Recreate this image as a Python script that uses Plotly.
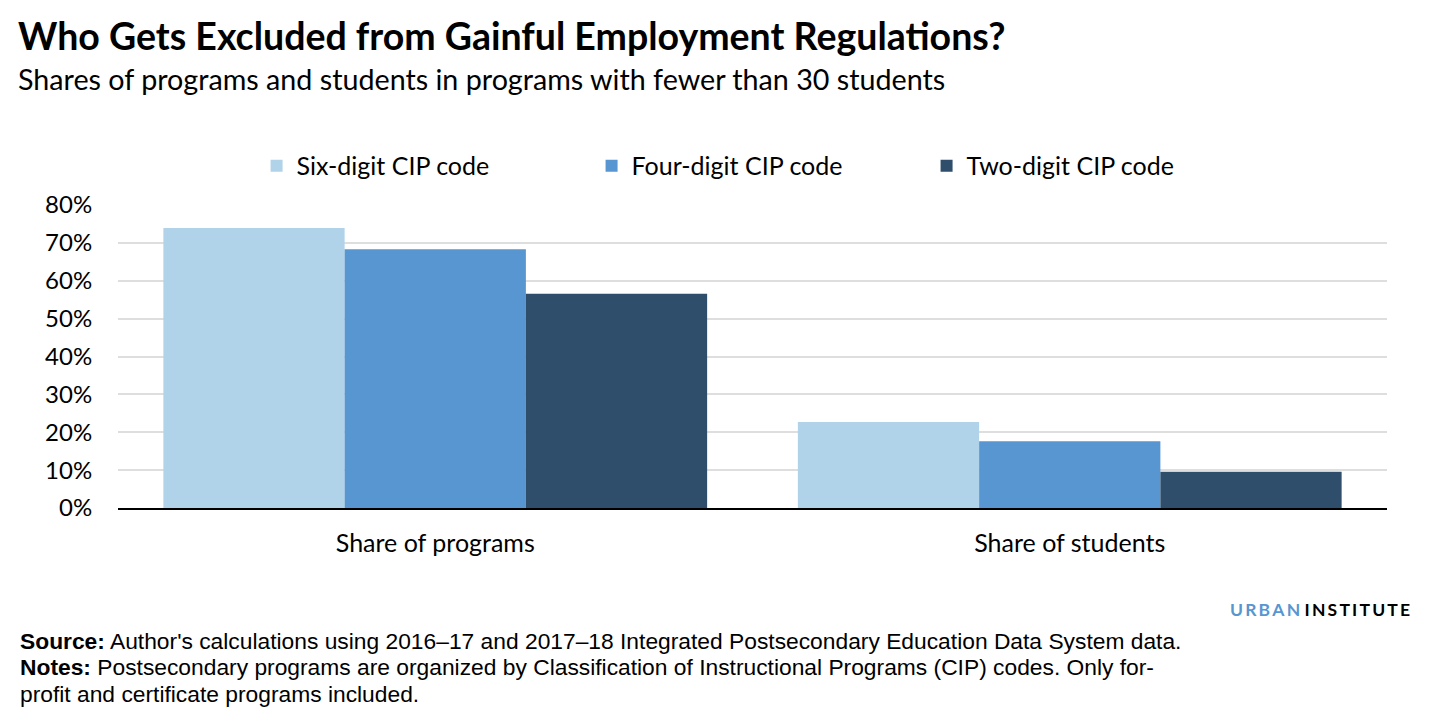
import plotly.graph_objects as go

categories = ["Share of programs", "Share of students"]
series_names = ["Six-digit CIP code", "Four-digit CIP code", "Two-digit CIP code"]
six_digit = [73.9, 22.7]
four_digit = [68.3, 17.6]
two_digit = [56.6, 9.6]
series_colors = ["#b1d3e9", "#5796d1", "#2e4e6b"]
y_ticks = [0, 10, 20, 30, 40, 50, 60, 70, 80]
y_tick_labels = [f"{v}%" for v in y_ticks]

fig = go.Figure()
for name, vals, col in zip(series_names, [six_digit, four_digit, two_digit], series_colors):
    fig.add_trace(go.Bar(x=categories, y=vals, name=name, marker=dict(color=col, line=dict(width=0))))

W, H = 1429, 718
L, R, T, B = 118, 42, 205, 210

fig.update_layout(
    width=W, height=H,
    margin=dict(l=L, r=R, t=T, b=B),
    paper_bgcolor="white", plot_bgcolor="white",
    barmode="group", bargap=0.143, bargroupgap=0,
    font=dict(family="Lato", color="#000000"),
    showlegend=True,
    legend=dict(orientation="h", x=0.1092, xanchor="left", y=1.129, yanchor="middle",
                font=dict(size=25, family="Lato"), entrywidth=290, entrywidthmode="pixels",
                traceorder="normal", bgcolor="rgba(0,0,0,0)"),
    xaxis=dict(showgrid=False, showline=True, linecolor="#000000", linewidth=2,
               ticks="outside", ticklen=12, tickcolor="rgba(0,0,0,0)",
               tickfont=dict(size=25, family="Lato")),
    yaxis=dict(range=[0, 80], tickvals=y_ticks, ticktext=y_tick_labels,
               showgrid=True, gridcolor="#dedede", gridwidth=2, zeroline=False,
               showline=False, ticks="outside", ticklen=20, tickcolor="rgba(0,0,0,0)",
               tickfont=dict(size=24, family="Lato")),
)

annotations = [
    dict(text="<b>Who Gets Excluded from Gainful Employment Regulations?</b>", x=16, y=35,
         font=dict(size=37.5, family="Lato", color="#000000")),
    dict(text="Shares of programs and students in programs with fewer than 30 students", x=16, y=79,
         font=dict(size=28.7, family="Lato", color="#000000")),
    dict(text="<b>Source:</b> Author's calculations using 2016–17 and 2017–18 Integrated Postsecondary Education Data System data.",
         x=18, y=641, font=dict(size=22.8, family="Liberation Sans", color="#000000")),
    dict(text="<b>Notes:</b> Postsecondary programs are organized by Classification of Instructional Programs (CIP) codes. Only for-",
         x=18, y=667, font=dict(size=22.8, family="Liberation Sans", color="#000000")),
    dict(text="profit and certificate programs included.",
         x=18, y=694, font=dict(size=22.8, family="Liberation Sans", color="#000000")),
]
for a in annotations:
    fig.add_annotation(text=a["text"], xref="paper", yref="paper",
                       x=(a["x"] - L) / (W - L - R), y=(H - B - a["y"]) / (H - T - B),
                       xanchor="left", yanchor="middle", showarrow=False, align="left", font=a["font"])

thin = "\u2009"
fig.add_annotation(
    text=f"<span style='color:#5796d1'><b>{thin.join('URBAN')}</b></span>{thin}{thin}<b>{thin.join('INSTITUTE')}</b>",
    xref="paper", yref="paper",
    x=(1412 - L) / (W - L - R), y=(H - B - 609) / (H - T - B),
    xanchor="right", yanchor="middle", showarrow=False,
    font=dict(size=17.5, family="Lato", color="#000000"))

fig.write_html("out.html", config={"displayModeBar": False},
               post_script="document.body.style.margin='0';document.body.style.overflow='hidden';")
